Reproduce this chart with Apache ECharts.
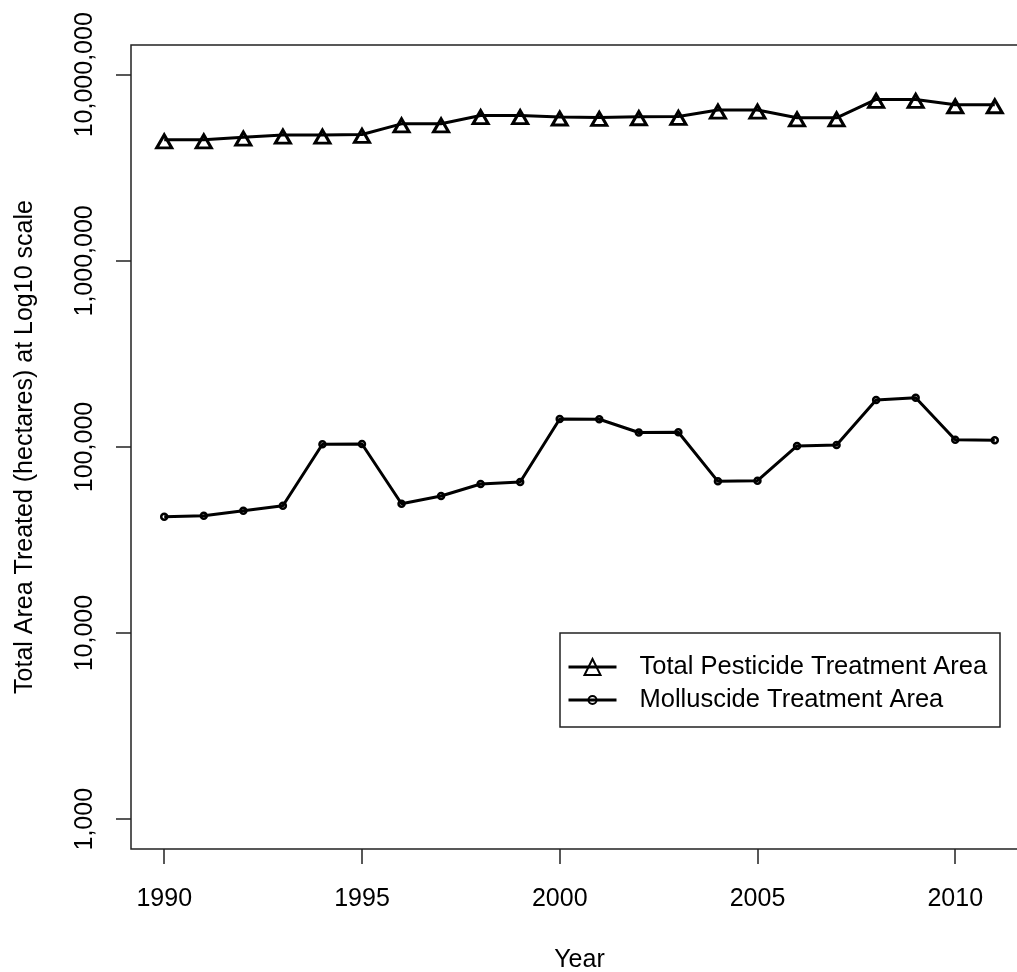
<!DOCTYPE html>
<html>
<head>
<meta charset="utf-8">
<script src="https://cdn.jsdelivr.net/npm/echarts@6/dist/echarts.min.js"></script>
<style>
html,body{margin:0;padding:0;background:#fff;}
#chart{width:1017px;height:972px;}
</style>
</head>
<body>
<div id="chart"></div>
<script>
const years = [1990,1991,1992,1993,1994,1995,1996,1997,1998,1999,2000,2001,2002,2003,2004,2005,2006,2007,2008,2009,2010,2011];
const totalPesticide = [4470000,4470000,4620000,4740000,4740000,4780000,5450000,5450000,6040000,6040000,5930000,5900000,5950000,5970000,6460000,6460000,5870000,5870000,7370000,7370000,6900000,6900000];
const molluscide = [42200,42700,45450,48350,103400,103800,49570,54530,63250,64830,141400,141000,119700,120000,65400,65890,101250,102500,178900,184100,109400,108600];
const xTicks = [1990,1995,2000,2005,2010];
const yTicks = [1000,10000,100000,1000000,10000000];
const seriesNames = ['Total Pesticide Treatment Area','Molluscide Treatment Area'];
const xTitle = 'Year';
const yTitle = 'Total Area Treated (hectares) at Log10 scale';

const FONT = 'Liberation Sans, Arial, Helvetica, sans-serif';
const pairs = (vals) => years.map((y,i)=>[y, vals[i]]);
const fmt = (v) => Math.round(v).toString().replace(/\B(?=(\d{3})+(?!\d))/g, ',');

const chart = echarts.init(document.getElementById('chart'), null, {renderer:'canvas'});
chart.setOption({
  animation:false,
  backgroundColor:'#fff',
  grid:{left:131, top:45, width:897, height:804, outerBoundsMode:'none', containLabel:false,
        show:true, borderColor:'#222', borderWidth:1.5, backgroundColor:'transparent'},
  xAxis:{
    type:'value', min:1989.16, max:2011.84,
    splitLine:{show:false},
    axisLine:{show:false},
    axisTick:{show:true, length:15, inside:false, customValues:xTicks, lineStyle:{color:'#222', width:1.5}},
    axisLabel:{customValues:xTicks, color:'#000', fontFamily:FONT, fontSize:25, margin:38, formatter:(v)=>String(v)},
    name:xTitle, nameLocation:'middle', nameGap:99,
    nameTextStyle:{color:'#000', fontFamily:FONT, fontSize:25}
  },
  yAxis:{
    type:'log', logBase:10, min:691.83, max:14454398,
    splitLine:{show:false},
    axisLine:{show:false},
    axisTick:{show:true, length:15, inside:false, customValues:yTicks, lineStyle:{color:'#222', width:1.5}},
    axisLabel:{customValues:yTicks, rotate:90, color:'#000', fontFamily:FONT, fontSize:25, margin:33, formatter:fmt},
    name:yTitle, nameLocation:'middle', nameGap:93, nameRotate:90,
    nameTextStyle:{color:'#000', fontFamily:FONT, fontSize:25}
  },
  legend:[
    {data:[seriesNames[0]], orient:'vertical', left:567, top:654, padding:0,
     itemWidth:48, itemHeight:20, lineStyle:{width:3, color:'#000'},
     textStyle:{color:'#000', fontFamily:FONT, fontSize:25.5, padding:[0,0,0,18]}},
    {data:[seriesNames[1]], orient:'vertical', left:567, top:687, padding:0,
     itemWidth:48, itemHeight:10, lineStyle:{width:3, color:'#000'},
     textStyle:{color:'#000', fontFamily:FONT, fontSize:25.5, padding:[0,0,0,18]}}
  ],
  graphic:[{type:'rect', z:1, shape:{x:560, y:633, width:440, height:94},
    style:{fill:'#fff', stroke:'#222', lineWidth:1.5}}],
  series:[
    {name:seriesNames[0], type:'line', data:pairs(totalPesticide),
     symbol:'triangle', symbolSize:[15,13], symbolOffset:[0,1.5],
     itemStyle:{color:'transparent', borderColor:'#000', borderWidth:3},
     lineStyle:{color:'#000', width:3}},
    {name:seriesNames[1], type:'line', data:pairs(molluscide),
     symbol:'circle', symbolSize:6,
     itemStyle:{color:'transparent', borderColor:'#000', borderWidth:2.5},
     lineStyle:{color:'#000', width:3}}
  ]
});
</script>
</body>
</html>
